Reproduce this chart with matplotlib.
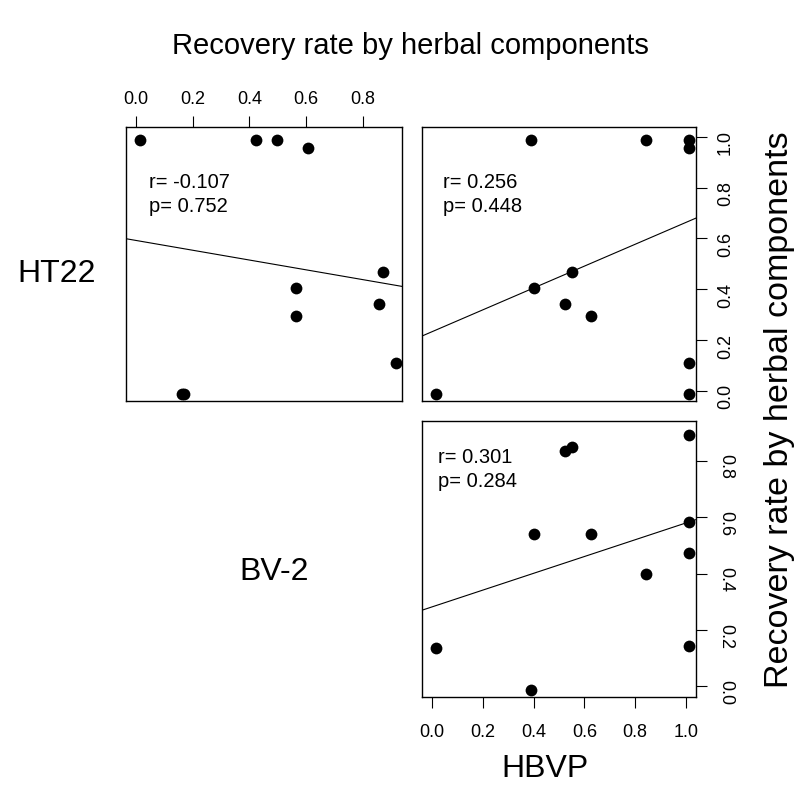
import matplotlib.pyplot as plt
import matplotlib.transforms as mtransforms

plt.rcParams['font.family'] = ['Liberation Sans', 'DejaVu Sans']

# values (one entry per sample)
ht22 = [1.00, 1.00, 1.00, 0.97, 0.48, 0.42, 0.357, 0.309, 0.122, 0.0, 0.0]
bv2 = [0.00, 0.41, 0.485, 0.595, 0.86, 0.552, 0.847, 0.552, 0.904, 0.150, 0.155]
hbvp = [0.375, 0.83, 1.00, 1.00, 0.537, 0.386, 0.51, 0.612, 1.00, 0.0, 1.00]

# fitted lines as drawn in the picture: top-left, top-right, bottom-right
fit_intercept = [0.592, 0.233, 0.282]
fit_slope = [-0.1925, 0.43, 0.297]
r_text = ["r= -0.107", "r= 0.256", "r= 0.301"]
p_text = ["p= 0.752", "p= 0.448", "p= 0.284"]

ticks_ht22 = [0.0, 0.2, 0.4, 0.6, 0.8, 1.0]
ticks_bv2 = [0.0, 0.2, 0.4, 0.6, 0.8]
ticks_hbvp = [0.0, 0.2, 0.4, 0.6, 0.8, 1.0]

title = "Recovery rate by herbal components"

W, H = 798, 810
fig = plt.figure(figsize=(W / 100, H / 100), dpi=100)


def rect(l, t, r, b):
    return [l / W, 1 - b / H, (r - l) / W, (b - t) / H]


def rlim(v):
    # R style: data range plus 4% each side
    lo, hi = min(v), max(v)
    pad = 0.04 * (hi - lo)
    return lo - pad, hi + pad


# R's png device puts the dots a few px right/down of the true spot
dot_shift = mtransforms.ScaledTranslation(0.035, -0.035, fig.dpi_scale_trans)


def panel(box, x, y, i, text_pos):
    ax = fig.add_axes(rect(*box))
    ax.set_xlim(rlim(x))
    ax.set_ylim(rlim(y))
    ax.scatter(x, y, s=72, color="black", linewidths=0, clip_on=False,
               transform=ax.transData + dot_shift, zorder=3)
    ax.axline((0, fit_intercept[i]), slope=fit_slope[i], color="black", lw=0.8)
    tx, ty1, ty2 = text_pos
    ax.text(tx, ty1, r_text[i], transform=ax.transAxes, fontsize=14.5, va="baseline")
    ax.text(tx, ty2, p_text[i], transform=ax.transAxes, fontsize=14.5, va="baseline")
    for s in ax.spines.values():
        s.set_linewidth(1.0)
    ax.tick_params(direction="out", length=8, width=0.8, labelsize=13)
    return ax


# top-left: BV-2 vs HT22
ax1 = panel((126, 126.7, 402.3, 401), bv2, ht22, 0, (0.084, 0.778, 0.690))
ax1.xaxis.tick_top()
ax1.set_xticks(ticks_bv2)
ax1.set_xticklabels([f"{t:.1f}" for t in ticks_bv2])
ax1.tick_params(axis="x", pad=5.5)
ax1.set_yticks([])

# top-right: HBVP vs HT22
ax2 = panel((422, 126.7, 696, 401), hbvp, ht22, 1, (0.078, 0.778, 0.690))
ax2.set_xticks([])
ax2.yaxis.tick_right()
ax2.set_yticks(ticks_ht22)
ax2.set_yticklabels([f"{t:.1f}" for t in ticks_ht22])
ax2.tick_params(axis="y", labelrotation=90, pad=7)

# bottom-right: HBVP vs BV-2
ax3 = panel((422, 421, 696, 696.7), hbvp, bv2, 2, (0.059, 0.847, 0.760))
ax3.set_xticks(ticks_hbvp)
ax3.set_xticklabels([f"{t:.1f}" for t in ticks_hbvp])
ax3.tick_params(axis="x", pad=12)
ax3.yaxis.tick_right()
ax3.set_yticks(ticks_bv2)
ax3.set_yticklabels([f"{t:.1f}" for t in ticks_bv2])
ax3.tick_params(axis="y", labelrotation=-90, pad=7)

# names and titles
fig.text(410 / W, 1 - 54 / H, title, fontsize=21, ha="center", va="baseline")
fig.text(57 / W, 1 - 281.5 / H, "HT22", fontsize=23, ha="center", va="baseline")
fig.text(274 / W, 1 - 579.5 / H, "BV-2", fontsize=23, ha="center", va="baseline")
fig.text(545 / W, 1 - 777 / H, "HBVP", fontsize=23, ha="center", va="baseline")
fig.text(788 / W, 1 - 410 / H, title, fontsize=24.5, rotation=90,
         rotation_mode="anchor", ha="center", va="baseline")

fig.savefig("out.png", dpi=100)
